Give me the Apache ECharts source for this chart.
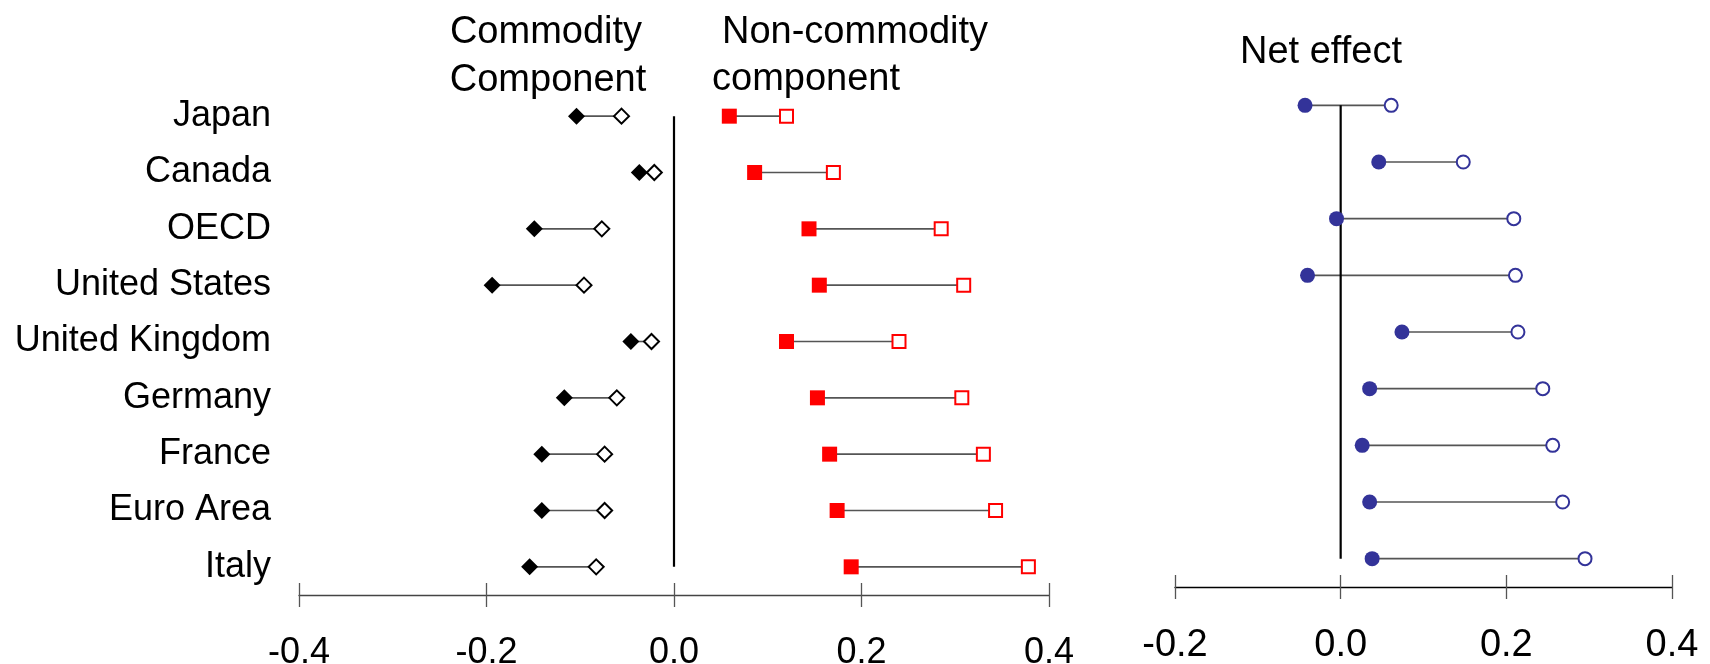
<!DOCTYPE html>
<html><head><meta charset="utf-8">
<script src="https://cdn.jsdelivr.net/npm/echarts@6/dist/echarts.min.js"></script>
<style>html,body{margin:0;padding:0;background:#fff}#c{width:1710px;height:664px}</style>
</head><body><div id="c"></div>
<script>
const countries = ['Japan','Canada','OECD','United States','United Kingdom','Germany','France','Euro Area','Italy'];
const commodityFilled = [-0.104,-0.037,-0.149,-0.194,-0.046,-0.117,-0.141,-0.141,-0.154];
const commodityOpen   = [-0.056,-0.021,-0.077,-0.096,-0.024,-0.061,-0.074,-0.074,-0.083];
const nonCommodityFilled = [0.059,0.086,0.144,0.155,0.120,0.153,0.166,0.174,0.189];
const nonCommodityOpen   = [0.120,0.170,0.285,0.309,0.240,0.307,0.330,0.343,0.378];
const netFilled = [-0.043,0.046,-0.005,-0.040,0.074,0.035,0.026,0.035,0.038];
const netOpen   = [0.061,0.148,0.209,0.211,0.214,0.244,0.256,0.268,0.295];
const leftTicks = {min:-0.4, max:0.4, interval:0.2};
const rightTicks = {min:-0.2, max:0.4, interval:0.2};
const titles = {commodity:['Commodity','Component'], nonCommodity:['Non-commodity','component'], net:'Net effect'};

const FONT = '"Liberation Sans", Arial, sans-serif';
const NAVY = '#333399';
const chart = echarts.init(document.getElementById('c'), null, {renderer:'canvas'});

function fmt(v){ return (Math.abs(v) < 1e-9 ? 0 : v).toFixed(1); }

function xAxes(gi, t, fontSize, lineColor, margin){
  return [
    {gridIndex:gi, type:'value', position:'bottom', min:t.min, max:t.max, interval:t.interval,
     axisLine:{show:true, lineStyle:{color:lineColor, width:1.3}},
     axisTick:{show:true, inside:false, length:12, lineStyle:{color:'#555', width:1.3}},
     axisLabel:{show:true, formatter:fmt, color:'#000', fontFamily:FONT, fontSize:fontSize, margin:margin},
     splitLine:{show:false}},
    {gridIndex:gi, type:'value', position:'bottom', min:t.min, max:t.max, interval:t.interval,
     axisLine:{show:false},
     axisTick:{show:true, inside:true, length:12, lineStyle:{color:'#555', width:1.3}},
     axisLabel:{show:false}, splitLine:{show:false}}
  ];
}
function yAxis(gi, showLabels){
  return {gridIndex:gi, type:'category', data:countries, inverse:true,
    axisLine:{show:false}, axisTick:{show:false}, splitLine:{show:false},
    axisLabel:{show:showLabels, color:'#000', fontFamily:FONT, fontSize:36, margin:28}};
}
function connector(xi, yi, lo, hi, color){
  return {type:'custom', xAxisIndex:xi, yAxisIndex:yi, silent:true, z:1,
    data: countries.map((c,i)=>[lo[i], hi[i], i]),
    encode:{x:[0,1], y:2},
    renderItem:(params, api)=>{
      const a = api.coord([api.value(0), api.value(2)]);
      const b = api.coord([api.value(1), api.value(2)]);
      return {type:'line', shape:{x1:a[0], y1:a[1], x2:b[0], y2:b[1]}, style:{stroke:color, lineWidth:1.6}};
    }};
}
function points(xi, yi, vals, symbol, size, fill, border){
  return {type:'scatter', xAxisIndex:xi, yAxisIndex:yi, silent:true, z:5,
    symbol:symbol, symbolSize:size,
    data: vals.map((v,i)=>[v, i]),
    itemStyle: border ? {color:'#fff', borderColor:border, borderWidth:2, opacity:1} : {color:fill, opacity:1}};
}
function zeroLine(xi, yi){
  return {type:'line', xAxisIndex:xi, yAxisIndex:yi, silent:true, z:3, symbol:'none',
    data:[[0, 0],[0, countries.length-1]], lineStyle:{color:'#000', width:2.2}};
}

const option = {
  animation:false,
  backgroundColor:'#fff',
  grid:[
    {left:299, width:750, top:88, height:507, containLabel:false, outerBoundsMode:'none'},
    {left:1175, width:497, top:77, height:510, containLabel:false, outerBoundsMode:'none'}
  ],
  xAxis:[...xAxes(0, leftTicks, 36, '#444', 40), ...xAxes(1, rightTicks, 38, '#000', 40)],
  yAxis:[yAxis(0, true), yAxis(1, false)],
  graphic:[
    {type:'text', x:546, y:33, style:{text:titles.commodity[0], font:'38px '+FONT, fill:'#000', textAlign:'center', textVerticalAlign:'middle'}},
    {type:'text', x:548, y:81, style:{text:titles.commodity[1], font:'38px '+FONT, fill:'#000', textAlign:'center', textVerticalAlign:'middle'}},
    {type:'text', x:722, y:33, style:{text:titles.nonCommodity[0], font:'38px '+FONT, fill:'#000', textAlign:'left', textVerticalAlign:'middle'}},
    {type:'text', x:712, y:80, style:{text:titles.nonCommodity[1], font:'38px '+FONT, fill:'#000', textAlign:'left', textVerticalAlign:'middle'}},
    {type:'text', x:1240, y:53, style:{text:titles.net, font:'38px '+FONT, fill:'#000', textAlign:'left', textVerticalAlign:'middle'}}
  ],
  series:[
    connector(0, 0, commodityFilled, commodityOpen, '#555'),
    connector(0, 0, nonCommodityFilled, nonCommodityOpen, '#555'),
    zeroLine(0, 0),
    points(0, 0, commodityFilled, 'diamond', 17, '#000', null),
    points(0, 0, commodityOpen, 'diamond', 15, null, '#000'),
    points(0, 0, nonCommodityFilled, 'rect', 15, '#ff0000', null),
    points(0, 0, nonCommodityOpen, 'rect', 13, null, '#ff0000'),
    connector(2, 1, netFilled, netOpen, '#555'),
    zeroLine(2, 1),
    points(2, 1, netFilled, 'circle', 15, NAVY, null),
    points(2, 1, netOpen, 'circle', 13, null, NAVY)
  ]
};
chart.setOption(option);
</script>
</body></html>
